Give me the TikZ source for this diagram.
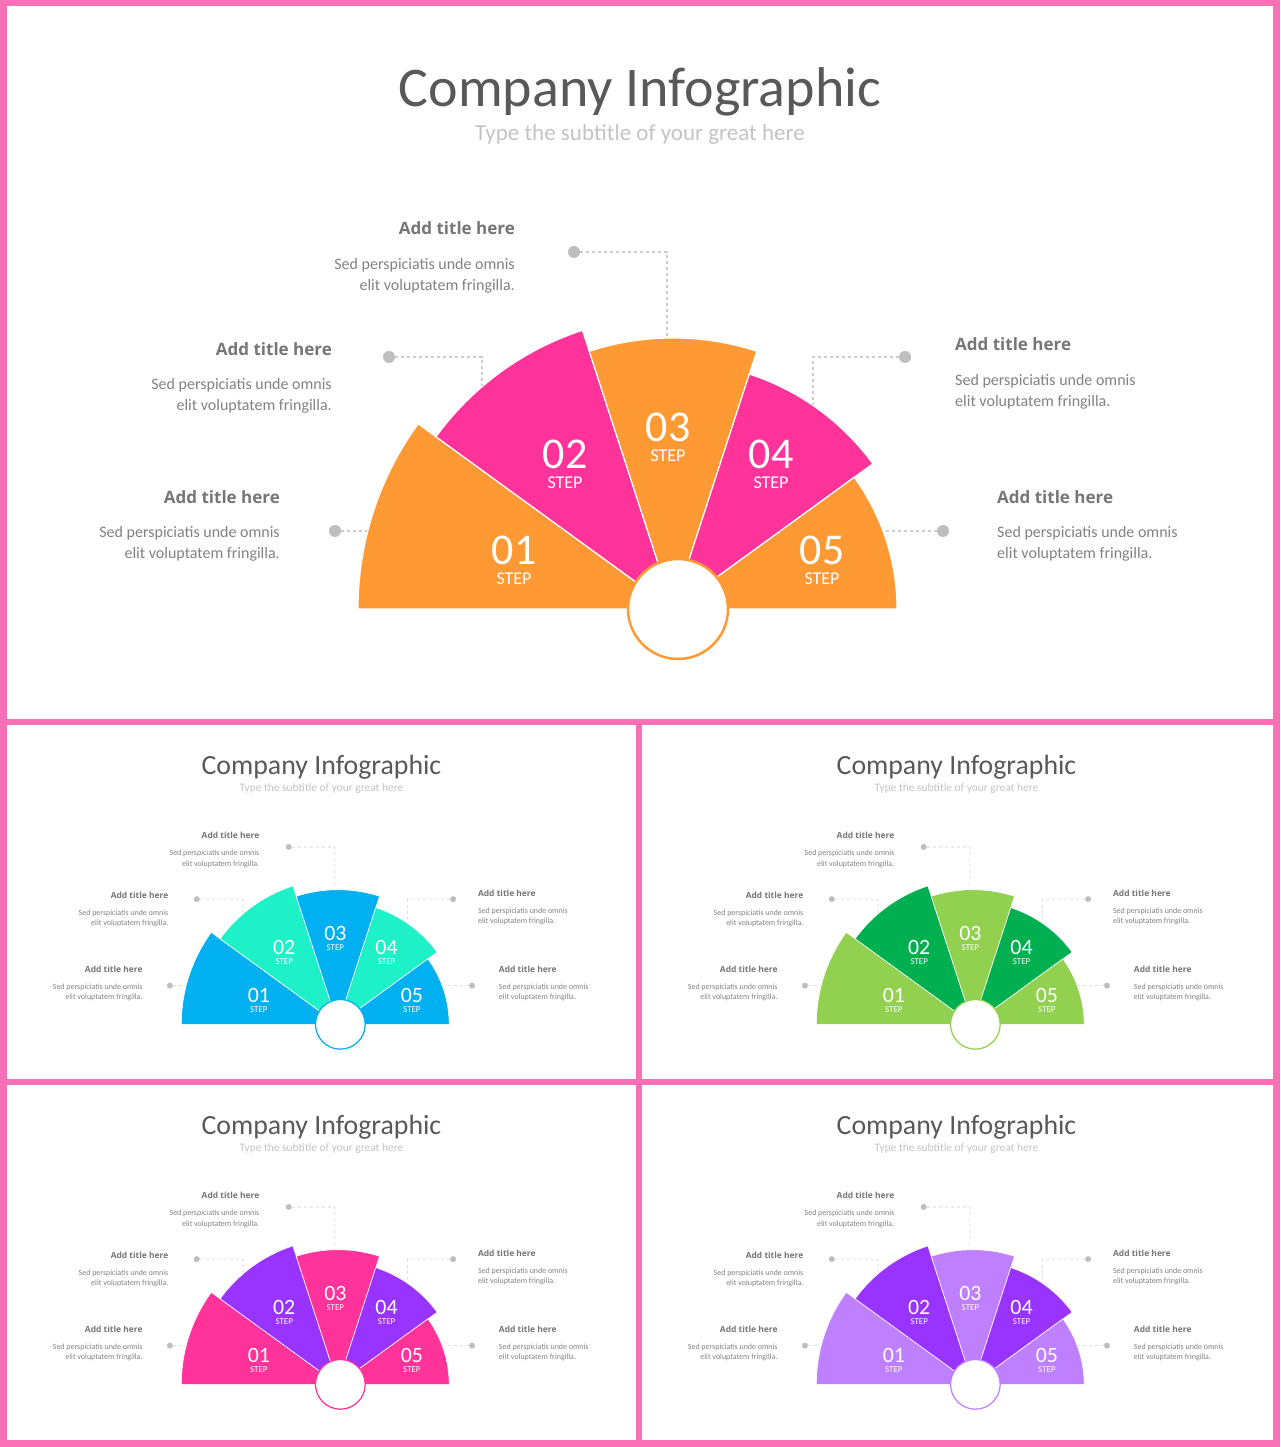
\documentclass[tikz,border=0pt]{standalone}
\usepackage{fontspec}
\setmainfont{Carlito}
\newfontfamily\headfont{Open Sans}
\usetikzlibrary{positioning}

\definecolor{framepink}{RGB}{250,112,182}
\definecolor{titlegray}{RGB}{89,89,89}
\definecolor{subgray}{RGB}{196,196,196}
\definecolor{headgray}{RGB}{118,118,118}
\definecolor{bodygray}{RGB}{130,130,130}
\definecolor{dotgray}{RGB}{190,190,190}
\definecolor{leadgray}{RGB}{205,205,205}
\definecolor{fanorange}{RGB}{255,153,51}
\definecolor{fanpink}{RGB}{255,51,153}
\definecolor{fanblue}{RGB}{0,176,240}
\definecolor{fanmint}{RGB}{30,240,200}
\definecolor{fanlime}{RGB}{146,208,80}
\definecolor{fangreen}{RGB}{0,176,80}
\definecolor{fanpurple}{RGB}{153,51,255}
\definecolor{fanlilac}{RGB}{191,128,255}

\def\lwf{1}
\newcommand{\steptag}{\fontsize{18}{20}\selectfont STEP}
\tikzset{
  bigtitle/.style={inner sep=0, text=titlegray, font=\fontsize{56}{60}\selectfont},
  subtitle/.style={inner sep=0, text=subgray, font=\fontsize{23}{26}\selectfont},
  stepnum/.style={inner sep=0, text=white, align=center, font=\fontsize{44}{20}\selectfont},
  headtext/.style={inner sep=0, text=headgray, font=\headfont\bfseries\fontsize{17}{20}\selectfont},
  bodytext/.style={inner sep=0, text=bodygray, font=\fontsize{16}{20.5}\selectfont},
  markdot/.style={circle, fill=dotgray, inner sep=0, minimum size=12},
  leader/.style={draw=leadgray, line width=1.2pt*\lwf, dash pattern=on 3pt off 3pt},
  sector/.style={draw=white, line width=1.2pt*\lwf},
}

% #1 prefix, #2 origin, #3 scale, #4 main colour, #5 second colour
\newcommand{\fanpanel}[5]{%
\begin{scope}[shift={#2}, scale=#3, transform shape]
\def\lwf{#3}
\node[bigtitle, anchor=base] (#1title) at (633,612) {Company Infographic};
\node[subtitle, anchor=base] (#1sub) at (633,578) {Type the subtitle of your great here};

% text blocks
\node[headtext, anchor=base east] (#1h3) at (508,484) {Add title here};
\node[bodytext, anchor=east, align=right] (#1b3) at (508,443) {Sed perspiciatis unde omnis\\elit voluptatem fringilla.};
\node[headtext, anchor=base east] (#1h2) at (325,363) {Add title here};
\node[bodytext, anchor=east, align=right] (#1b2) at (325,323) {Sed perspiciatis unde omnis\\elit voluptatem fringilla.};
\node[headtext, anchor=base east] (#1h1) at (273,215) {Add title here};
\node[bodytext, anchor=east, align=right] (#1b1) at (273,175) {Sed perspiciatis unde omnis\\elit voluptatem fringilla.};
\node[headtext, anchor=base west] (#1h4) at (948,368) {Add title here};
\node[bodytext, anchor=west, align=left] (#1b4) at (948,327) {Sed perspiciatis unde omnis\\elit voluptatem fringilla.};
\node[headtext, anchor=base west] (#1h5) at (990,215) {Add title here};
\node[bodytext, anchor=west, align=left] (#1b5) at (990,175) {Sed perspiciatis unde omnis\\elit voluptatem fringilla.};

% leaders
\node[markdot] (#1d3) at (567,467) {};
\node[markdot] (#1d2) at (382,362) {};
\node[markdot] (#1d4) at (898,362) {};
\node[markdot] (#1d1) at (328,188) {};
\node[markdot] (#1d5) at (936,188) {};
\coordinate (#1k3) at (660,467);
\coordinate (#1e3) at (660,381);
\coordinate (#1k2) at (475,362);
\coordinate (#1e2) at (475,332);
\coordinate (#1k4) at (806,362);
\coordinate (#1e4) at (806,313);
\coordinate (#1e1) at (361,188);
\coordinate (#1e5) at (876,188);
\draw[leader] (#1d3) -- (#1k3) -- (#1e3);
\draw[leader] (#1d2) -- (#1k2) -- (#1e2);
\draw[leader] (#1d4) -- (#1k4) -- (#1e4);
\draw[leader] (#1d1) -- (#1e1);
\draw[leader] (#1d5) -- (#1e5);

% fan
\coordinate (#1c) at (666,110);
\path[sector, fill=#4] (#1c) -- ++(180:315) arc (180:144:315) -- cycle;
\path[sector, fill=#5] (#1c) -- ++(144:293) arc (144:108:293) -- cycle;
\path[sector, fill=#4] (#1c) -- ++(108:271) arc (108:72:271) -- cycle;
\path[sector, fill=#5] (#1c) -- ++(72:247) arc (72:36:247) -- cycle;
\path[sector, fill=#4] (#1c) -- ++(36:224) arc (36:0:224) -- cycle;
\node[circle, draw=#4, fill=white, line width=2.5pt*\lwf, minimum size=100, inner sep=0] (#1hub) at (671,110) {};

\node[stepnum] (#1n1) at (507,159) {01\\\steptag};
\node[stepnum] (#1n2) at (558,255) {02\\\steptag};
\node[stepnum] (#1n3) at (661,282) {03\\\steptag};
\node[stepnum] (#1n4) at (764,255) {04\\\steptag};
\node[stepnum] (#1n5) at (815,159) {05\\\steptag};
\end{scope}}

\begin{document}
\begin{tikzpicture}[x=1pt, y=1pt]
\fill[framepink] (0,0) rectangle (1280,1447);
\fill[white] (7,728) rectangle (1273,1441);
\fill[white] (7,368) rectangle (636,722);
\fill[white] (642,368) rectangle (1273,722);
\fill[white] (7,7) rectangle (636,362);
\fill[white] (642,7) rectangle (1273,362);

\fanpanel{a}{(7,728)}{1}{fanorange}{fanpink}
\fanpanel{b}{(7,368)}{0.4968}{fanblue}{fanmint}
\fanpanel{c}{(642,368)}{0.4968}{fanlime}{fangreen}
\fanpanel{d}{(7,8)}{0.4968}{fanpink}{fanpurple}
\fanpanel{e}{(642,8)}{0.4968}{fanlilac}{fanpurple}
\end{tikzpicture}
\end{document}
